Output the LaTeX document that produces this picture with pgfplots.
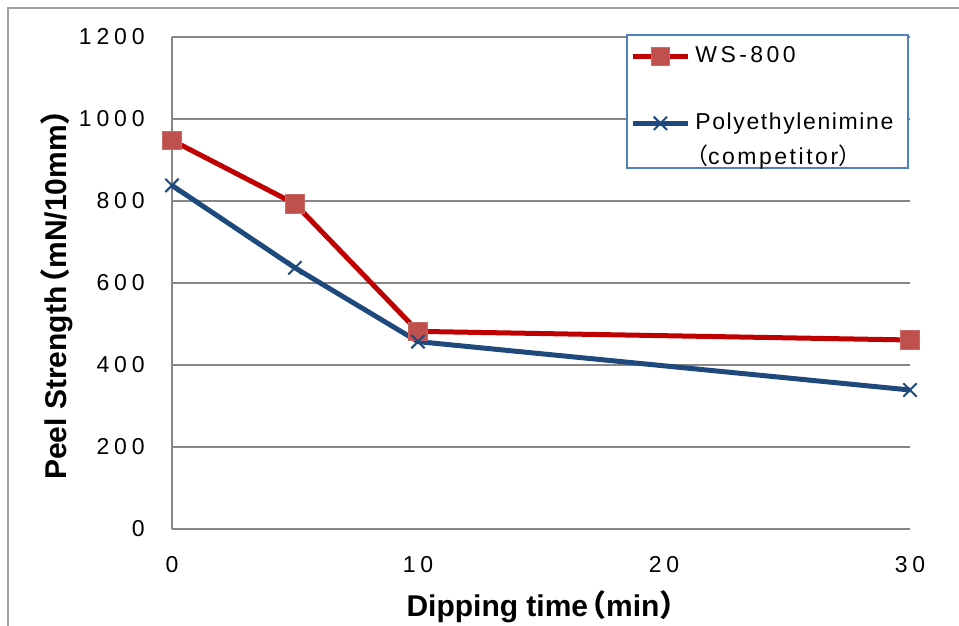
\documentclass[border=0pt]{standalone}
\usepackage{pgfplots}
\pgfplotsset{compat=1.18}
\usepackage{fontspec}
\setmainfont{Liberation Sans}
\newfontfamily\spaced[LetterSpace=21]{Liberation Sans}
\newfontfamily\wsfont[LetterSpace=15]{Liberation Sans}
\newfontfamily\legfont[LetterSpace=7]{Liberation Sans}
\newfontfamily\compfont[LetterSpace=11]{Liberation Sans}
\newfontfamily\cjk{Noto Sans CJK JP}
\newcommand{\lp}{\hspace{-0.4em}{\cjk （}}
\newcommand{\rp}{{\cjk ）}\hspace{-0.4em}}
\definecolor{wsred}{HTML}{C00000}
\definecolor{wsmark}{HTML}{C0504D}
\definecolor{peiblue}{HTML}{1F497D}
\definecolor{gridgray}{HTML}{868686}
\definecolor{framegray}{HTML}{A0A0A0}
\definecolor{legblue}{HTML}{4F81BD}
\begin{document}
\begin{tikzpicture}
\path[use as bounding box] (-86pt,-48.5pt) rectangle (393.5pt,264.5pt);
\draw[framegray, line width=0.6pt] (-82pt,-48.5pt) -- (-82pt,260.5pt) -- (393.5pt,260.5pt);
\begin{axis}[
  at={(0,0)}, anchor=south west,
  scale only axis, width=369pt, height=246pt,
  xmin=0, xmax=30, ymin=0, ymax=1200,
  xtick={0,10,20,30}, ytick={0,200,...,1200},
  axis x line*=bottom, axis y line*=left,
  axis line style={gridgray, line width=0.6pt, -},
  ymajorgrids, grid style={gridgray, line width=0.6pt},
  major tick length=0pt,
  clip=false,
  /pgf/number format/assume math mode=true,
  /pgf/number format/1000 sep={},
  ticklabel style={font=\fontsize{11.5}{13}\spaced, inner sep=0pt},
  yticklabel style={anchor=east, xshift=-13.5pt},
  xticklabel style={anchor=center, yshift=-18pt},
  label style={font=\bfseries\fontsize{15}{18}\selectfont},
  xlabel={Dipping time\lp min\rp},
  ylabel={Peel Strength\lp mN/10mm\rp},
  xlabel style={at={(axis description cs:0.5095,-0.1585)}, anchor=center},
  ylabel style={at={(axis description cs:-0.1558,0.491)}, anchor=center, rotate=0},
  legend image code/.code={\draw[mark repeat=2,mark phase=2,#1] plot coordinates {(0pt,0pt) (13.75pt,0pt) (27.5pt,0pt)};},
  legend style={draw=none, fill=none, at={(axis description cs:0.6206,0.986)}, anchor=north west,
    inner sep=0pt, font=\fontsize{11.5}{13}\legfont, cells={anchor=west}, row sep=5.5pt,
    nodes={inner xsep=2.5pt, inner ysep=0pt, text height=9pt, text depth=3pt}},
]
\filldraw[draw=legblue, fill=white, line width=0.6pt] (rel axis cs:0.6165,1.004) rectangle (rel axis cs:0.9973,0.7337);
\addplot[wsred, line width=2.5pt, mark=square*, mark size=4.6pt,
  mark options={fill=wsmark, draw=wsmark!85!white, line width=0.5pt, solid}]
  coordinates {(0,948) (5,793) (10,482) (30,461)};
\addlegendentry{{\wsfont WS-800}}
\addlegendimage{empty legend}
\addlegendentry[text height=7.5pt]{}
\addplot[peiblue, line width=2.5pt, mark=x, mark size=4.7pt,
  mark options={draw=peiblue, line width=1pt, solid}]
  coordinates {(0,838) (5,637) (10,457) (30,339)};
\addlegendentry{Polyethylenimine}
\addlegendimage{empty legend}
\addlegendentry{\hspace{-0.45em}{\cjk （}{\compfont competitor}{\cjk ）}}
\end{axis}
\end{tikzpicture}
\end{document}
